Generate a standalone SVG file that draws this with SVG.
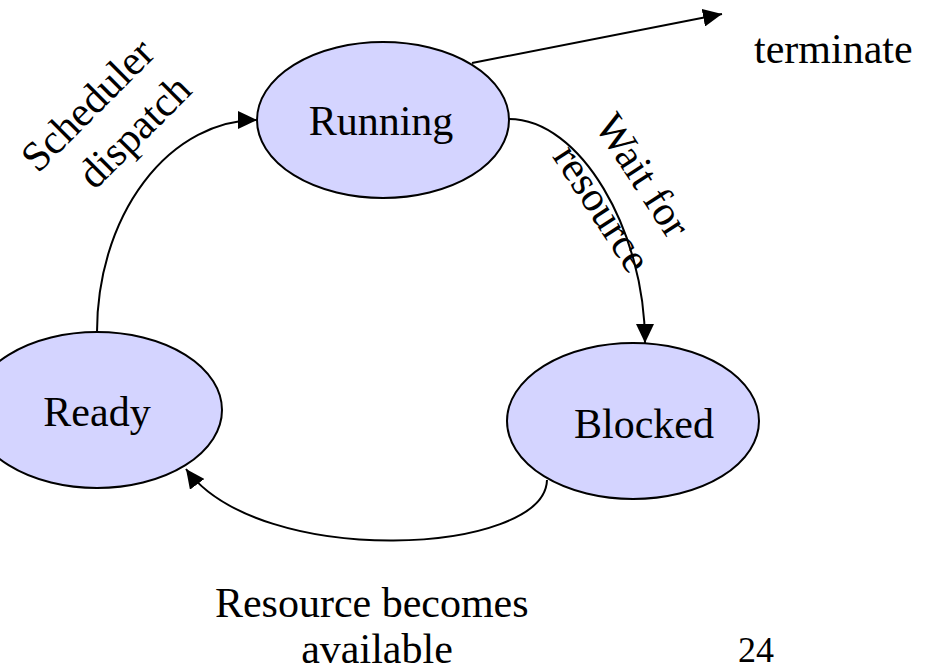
<svg xmlns="http://www.w3.org/2000/svg" width="937" height="672" viewBox="0 0 937 672">
  <style>
    .state { fill: #D4D4FF; stroke: #000; stroke-width: 2; }
    .lbl { font-family: "Liberation Serif", "Times New Roman", serif; font-size: 42px; fill: #000; }
    .edge { fill: none; stroke: #000; stroke-width: 2; }
  </style>
  <defs>
    <marker id="arrow" markerUnits="userSpaceOnUse" markerWidth="20" markerHeight="18" refX="19" refY="9" orient="auto">
      <path d="M0,0 L19,9 L0,18 z" fill="#000"/>
    </marker>
  </defs>

  <rect width="937" height="672" fill="#fff"/>

  <!-- transitions -->
  <g id="connectors">
    <path id="dispatch" class="edge" d="M97 332 A160 212 0 0 1 257 120" marker-end="url(#arrow)"/>
    <path id="wait" class="edge" d="M509 119 C580 119 645 230 645 343" marker-end="url(#arrow)"/>
    <path id="wakeup" class="edge" d="M547 480 C545 555 260 570 186 469" marker-end="url(#arrow)"/>
    <path id="exit" class="edge" d="M472 63 L722 14" marker-end="url(#arrow)"/>
  </g>

  <!-- states -->
  <g id="running">
    <ellipse class="state" cx="383" cy="120" rx="126" ry="78"/>
    <text class="lbl" x="381" y="135" text-anchor="middle">Running</text>
  </g>
  <g id="ready">
    <ellipse class="state" cx="97" cy="410" rx="125" ry="78"/>
    <text class="lbl" x="97" y="426" text-anchor="middle">Ready</text>
  </g>
  <g id="blocked">
    <ellipse class="state" cx="633" cy="421" rx="126" ry="78"/>
    <text class="lbl" x="644" y="438" text-anchor="middle">Blocked</text>
  </g>

  <!-- edge labels -->
  <g id="label-dispatch">
    <text class="lbl" text-anchor="middle" transform="translate(111 118) rotate(-45)">
      <tspan x="-2" y="-12">Scheduler</tspan>
      <tspan x="7" y="40">dispatch</tspan>
    </text>
  </g>
  <g id="label-wait">
    <text class="lbl" text-anchor="middle" transform="translate(624 194) rotate(57)">
      <tspan x="0" y="-12">Wait for</tspan>
      <tspan x="0" y="40">resource</tspan>
    </text>
  </g>
  <g id="label-wakeup">
    <text class="lbl" text-anchor="middle">
      <tspan x="377" y="617">Resource becomes</tspan>
      <tspan x="377" y="663">available</tspan>
    </text>
  </g>
  <g id="label-exit">
    <text class="lbl" x="754" y="63">terminate</text>
  </g>

  <text id="page-number" class="lbl" x="738" y="662" style="font-size:36px">24</text>
</svg>
